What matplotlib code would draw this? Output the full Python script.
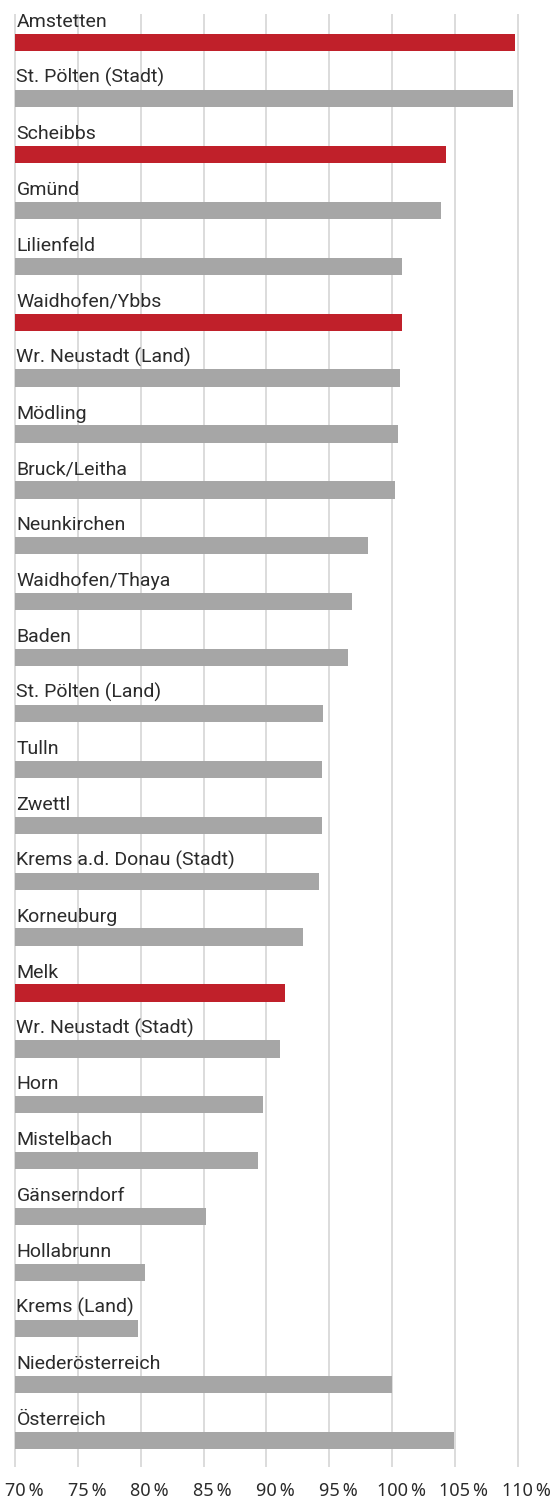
import matplotlib.pyplot as plt
from matplotlib.transforms import ScaledTranslation

# districts, top to bottom
districts = [
    "Amstetten", "St. Pölten (Stadt)", "Scheibbs", "Gmünd", "Lilienfeld",
    "Waidhofen/Ybbs", "Wr. Neustadt (Land)", "Mödling", "Bruck/Leitha",
    "Neunkirchen", "Waidhofen/Thaya", "Baden", "St. Pölten (Land)", "Tulln",
    "Zwettl", "Krems a.d. Donau (Stadt)", "Korneuburg", "Melk",
    "Wr. Neustadt (Stadt)", "Horn", "Mistelbach", "Gänserndorf", "Hollabrunn",
    "Krems (Land)", "Niederösterreich", "Österreich",
]
values = [
    109.8, 109.6, 104.3, 103.9, 100.8,
    100.8, 100.65, 100.45, 100.2,
    98.1, 96.8, 96.5, 94.5, 94.4,
    94.4, 94.2, 92.9, 91.5,
    91.1, 89.7, 89.35, 85.2, 80.3,
    79.8, 100.0, 104.9,
]
highlight = ["Amstetten", "Scheibbs", "Waidhofen/Ybbs", "Melk"]
ticks = [70, 75, 80, 85, 90, 95, 100, 105, 110]
tick_labels = [f"{t}\u2009%" for t in ticks]

RED = "#c0202a"
GREY = "#a6a6a6"
GRID = "#dcdcdc"
TEXT = "#2b2b2b"

W, H = 554, 1504
fig = plt.figure(figsize=(W / 100, H / 100), dpi=100)

# axes in pixel terms: x 69..111 -> 2.6..530.2 px, y top 14 px, bottom 1467 px
x0, x1 = 2.6, 530.2
y_top, y_bot = 14, 1467
ax = fig.add_axes([x0 / W, (H - y_bot) / H, (x1 - x0) / W, (y_bot - y_top) / H])
ax.set_xlim(69, 111)
ax.set_ylim(25.48, -0.513)

for t in ticks:
    ax.axvline(t, color=GRID, lw=1.4, zorder=0)

colors = [RED if d in highlight else GREY for d in districts]
ypos = list(range(len(districts)))
ax.barh(ypos, [v - 70 for v in values], left=70, height=0.31,
        color=colors, zorder=2)

for y, name in zip(ypos, districts):
    ax.text(70.1, y - 0.155 - 0.12, name, ha="left", va="baseline",
            fontsize=14, color=TEXT, family=["Roboto", "DejaVu Sans"], zorder=3)

ax.set_yticks([])
ax.set_xticks(ticks)
ax.set_xticklabels(tick_labels, fontsize=13, color=TEXT,
                   family=["Noto Sans", "DejaVu Sans"])
ax.tick_params(axis="x", length=0, pad=11)
offset = ScaledTranslation(9 / 100, 0, fig.dpi_scale_trans)
for lab in ax.get_xticklabels():
    lab.set_transform(lab.get_transform() + offset)

for s in ax.spines.values():
    s.set_visible(False)

fig.savefig("out.png", dpi=100)
